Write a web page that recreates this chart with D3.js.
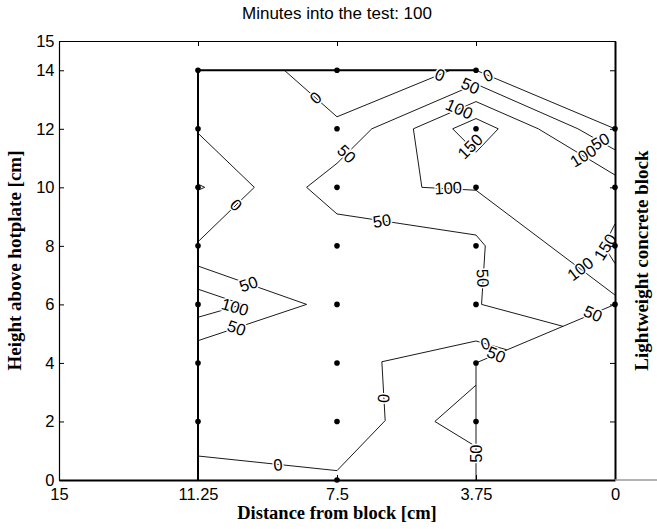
<!DOCTYPE html>
<html>
<head>
<meta charset="utf-8">
<script src="https://cdn.jsdelivr.net/npm/d3@7"></script>
<style>
  body { margin: 0; background: #fff; }
  svg { display: block; }
</style>
</head>
<body>
<svg id="chart" width="657" height="529"></svg>
<script>
// ---- data -------------------------------------------------------------
const titleText = "Minutes into the test: 100";
const xLabelText = "Distance from block [cm]";
const yLabelText = "Height above hotplate [cm]";
const blockLabelText = "Lightweight concrete block";

const xTicks = [15, 11.25, 7.5, 3.75, 0];
const yTicks = [0, 2, 4, 6, 8, 10, 12, 14, 15];

// thermocouple positions [distance, height]
const sensorPoints = [
  [11.25, 2], [11.25, 4], [11.25, 6], [11.25, 8], [11.25, 10], [11.25, 12], [11.25, 14],
  [7.5, 0], [7.5, 2], [7.5, 4], [7.5, 6], [7.5, 8], [7.5, 10], [7.5, 12], [7.5, 14],
  [3.75, 2], [3.75, 4], [3.75, 6], [3.75, 8], [3.75, 10], [3.75, 12], [3.75, 14],
  [0, 6], [0, 8], [0, 10], [0, 12]
];

// edge of the measured area (drawn heavier)
const areaEdge = [
  [[11.25, 0], [11.25, 14], [3.75, 14]]
];

// isolines, one list of polylines per level
const contour0 = [
  [[8.92, 14], [7.5, 12.41], [4.44, 14]],
  [[3.75, 14], [0, 12]],
  [[11.25, 11.85], [9.73, 10], [11.25, 8.14]],
  [[11.25, 10.11], [11.07, 10], [11.25, 9.9]],
  [[11.25, 0.82], [7.5, 0.32], [6.2, 2.03], [6.29, 4.04], [3.75, 4.75], [2.92, 4.45]]
];
const contour50 = [
  [[0, 11.28], [1.0, 12], [3.75, 13.53], [6.56, 12], [7.5, 10.82], [8.32, 10], [7.5, 9.09],
   [3.75, 8.37], [3.5, 8], [3.6, 6], [1.4, 5.25]],
  [[11.25, 7.31], [8.32, 6], [11.25, 4.76]],
  [[3.75, 3.24], [4.86, 2], [3.75, 1.14]],
  [[3.75, 0], [3.75, 4], [0, 6]]
];
const contour100 = [
  [[0, 10.42], [2.07, 12], [3.75, 12.93], [5.44, 12], [5.21, 10], [3.75, 9.9], [0, 6.32]],
  [[11.25, 6.52], [10.04, 6], [11.25, 5.56]]
];
const contour150 = [
  [[4.38, 12], [3.75, 12.35], [3.15, 12], [3.75, 11.2], [4.38, 12]],
  [[0, 8.75], [0.3, 8], [0, 7.4]]
];

// where each level is labelled
const labels0 = [[8.08, 13.06], [4.72, 13.85], [3.43, 13.83], [10.22, 9.4], [9.09, 0.53], [6.25, 2.79], [3.5, 4.66]];
const labels50 = [[3.9, 13.47], [7.24, 11.15], [6.29, 8.86], [3.56, 6.9], [9.89, 6.7], [10.21, 5.2],
                  [3.2, 4.29], [0.59, 5.69], [0.4, 11.57], [3.75, 0.9]];
const labels100 = [[4.2, 12.68], [4.5, 9.98], [0.86, 11.08], [0.94, 7.22], [10.25, 5.92]];
const labels150 = [[3.91, 11.4], [0.27, 7.96]];

const levels = [
  { level: 0, lines: contour0, labels: labels0 },
  { level: 50, lines: contour50, labels: labels50 },
  { level: 100, lines: contour100, labels: labels100 },
  { level: 150, lines: contour150, labels: labels150 }
];

// ---- layout -----------------------------------------------------------
const svg = d3.select("#chart");
const plot = { left: 59, right: 615, top: 41, bottom: 480 };

const x = d3.scaleLinear().domain([15, 0]).range([plot.left, plot.right]);
const y = d3.scaleLinear().domain([0, 15]).range([plot.bottom, plot.top]);

const sansFont = "'Liberation Sans', Arial, Helvetica, sans-serif";
const serifFont = "'Liberation Serif', 'Times New Roman', serif";

const line = d3.line().x(d => x(d[0])).y(d => y(d[1]));

// ---- isolines ---------------------------------------------------------
const gLines = svg.append("g");
levels.forEach(lv => {
  gLines.selectAll(null)
    .data(lv.lines)
    .enter().append("path")
    .attr("d", line)
    .attr("fill", "none")
    .attr("stroke", "#000")
    .attr("stroke-width", 0.9)
    .attr("stroke-linejoin", "miter");
});

gLines.selectAll(null)
  .data(areaEdge)
  .enter().append("path")
  .attr("d", line)
  .attr("fill", "none")
  .attr("stroke", "#000")
  .attr("stroke-width", 2);

// ---- labels on the isolines -------------------------------------------
function segmentDistance(p, a, b) {
  const dx = b[0] - a[0], dy = b[1] - a[1];
  const len2 = dx * dx + dy * dy || 1;
  let t = ((p[0] - a[0]) * dx + (p[1] - a[1]) * dy) / len2;
  t = Math.max(0, Math.min(1, t));
  const qx = a[0] + t * dx, qy = a[1] + t * dy;
  return Math.hypot(p[0] - qx, p[1] - qy);
}

function labelAngle(pt, lines) {
  const p = [x(pt[0]), y(pt[1])];
  let best = null, bestD = Infinity;
  lines.forEach(ln => {
    for (let i = 0; i < ln.length - 1; i++) {
      const a = [x(ln[i][0]), y(ln[i][1])];
      const b = [x(ln[i + 1][0]), y(ln[i + 1][1])];
      const d = segmentDistance(p, a, b);
      if (d < bestD) { bestD = d; best = [a, b]; }
    }
  });
  // angle taken in data space; the reversed distance axis mirrors it on screen
  let ang = -Math.atan2(best[1][1] - best[0][1], best[1][0] - best[0][0]) * 180 / Math.PI;
  while (ang >= 90) ang -= 180;
  while (ang < -90) ang += 180;
  return ang;
}

const gLabels = svg.append("g");
levels.forEach(lv => {
  lv.labels.forEach(pt => {
    const ang = labelAngle(pt, lv.lines);
    gLabels.append("text")
      .attr("transform", `translate(${x(pt[0])},${y(pt[1])}) rotate(${ang})`)
      .attr("text-anchor", "middle")
      .attr("dy", "0.36em")
      .attr("font-family", sansFont)
      .attr("font-size", 16.5)
      .attr("fill", "#000")
      .attr("stroke", "#fff")
      .attr("stroke-width", 3)
      .attr("paint-order", "stroke")
      .text(lv.level);
  });
});

// ---- sensor dots --------------------------------------------------------
svg.append("g").selectAll("circle")
  .data(sensorPoints)
  .enter().append("circle")
  .attr("cx", d => x(d[0]))
  .attr("cy", d => y(d[1]))
  .attr("r", 2.8)
  .attr("fill", "#000");

// ---- axes -------------------------------------------------------------
const xAxisBottom = d3.axisBottom(x).tickValues(xTicks)
  .tickFormat(d => String(d)).tickSizeInner(-5).tickSizeOuter(0).tickPadding(8);
const xAxisTop = d3.axisTop(x).tickValues(xTicks)
  .tickFormat("").tickSizeInner(-5).tickSizeOuter(0);
const yAxisLeft = d3.axisLeft(y).tickValues(yTicks)
  .tickFormat(d => String(d)).tickSizeInner(-5).tickSizeOuter(0).tickPadding(4.5);
const yAxisRight = d3.axisRight(y).tickValues(yTicks)
  .tickFormat("").tickSizeInner(-5).tickSizeOuter(0);

function styleAxis(g, width) {
  g.selectAll(".domain").attr("stroke", "#000").attr("stroke-width", width);
  g.selectAll(".tick line").attr("stroke", "#000").attr("stroke-width", 1);
  g.selectAll("text").attr("font-family", sansFont).attr("font-size", 16.5).attr("fill", "#000");
}

svg.append("g").attr("transform", `translate(0,${plot.top})`).call(xAxisTop).call(g => styleAxis(g, 1.2));
svg.append("g").attr("transform", `translate(${plot.left},0)`).call(yAxisLeft).call(g => styleAxis(g, 1.2));
svg.append("g").attr("transform", `translate(${plot.right},0)`).call(yAxisRight).call(g => styleAxis(g, 2));
svg.append("g").attr("transform", `translate(0,${plot.bottom})`).call(xAxisBottom).call(g => styleAxis(g, 2));

// baseline continuing past the block face
svg.append("line")
  .attr("x1", plot.right).attr("x2", 657)
  .attr("y1", plot.bottom).attr("y2", plot.bottom)
  .attr("stroke", "#9a9a9a").attr("stroke-width", 1.5);

// ---- titles -----------------------------------------------------------
svg.append("text")
  .attr("x", (plot.left + plot.right) / 2).attr("y", 19)
  .attr("text-anchor", "middle")
  .attr("font-family", sansFont).attr("font-size", 17)
  .text(titleText);

svg.append("text")
  .attr("x", (plot.left + plot.right) / 2).attr("y", 518.5)
  .attr("text-anchor", "middle")
  .attr("font-family", serifFont).attr("font-weight", "bold").attr("font-size", 18.5)
  .text(xLabelText);

svg.append("text")
  .attr("transform", `translate(21,${(plot.top + plot.bottom) / 2}) rotate(-90)`)
  .attr("text-anchor", "middle")
  .attr("font-family", serifFont).attr("font-weight", "bold").attr("font-size", 19)
  .text(yLabelText);

svg.append("text")
  .attr("transform", `translate(648,${(plot.top + plot.bottom) / 2}) rotate(-90)`)
  .attr("text-anchor", "middle")
  .attr("font-family", serifFont).attr("font-weight", "bold").attr("font-size", 19)
  .text(blockLabelText);
</script>
</body>
</html>
